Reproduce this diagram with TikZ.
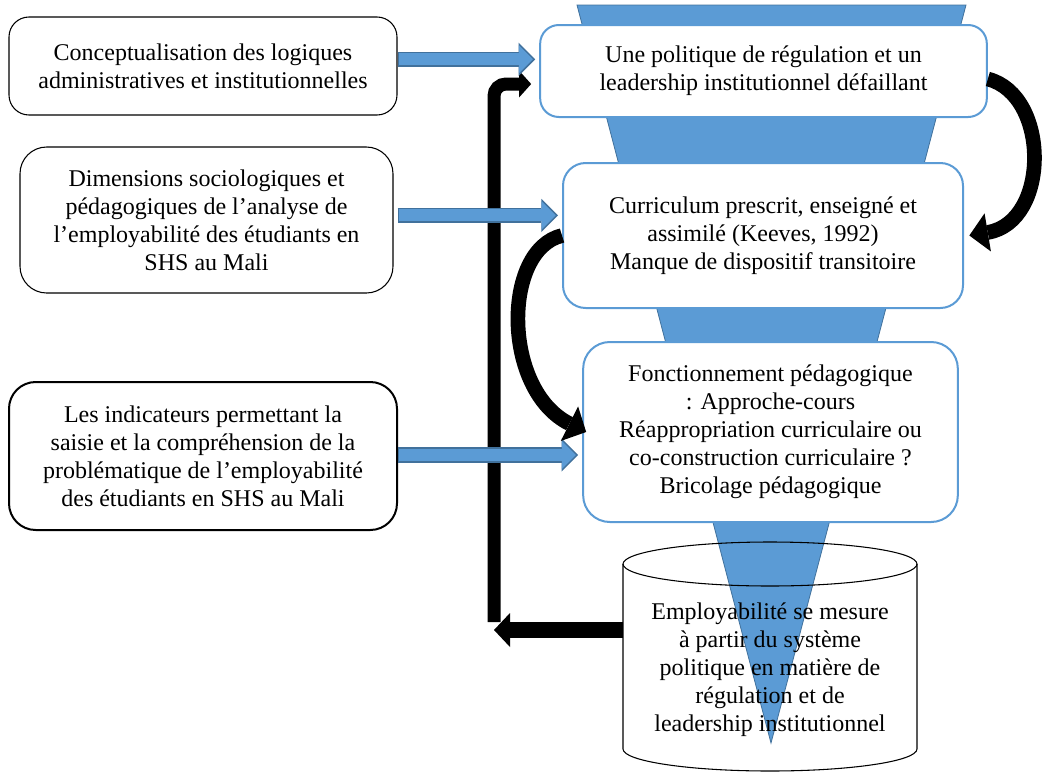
\documentclass[tikz,border=0pt]{standalone}
\usepackage{fontspec}
\setmainfont{Liberation Serif}
\usetikzlibrary{arrows.meta}
\definecolor{officeblue}{HTML}{5B9BD5}
\definecolor{officeedge}{HTML}{41719C}
\begin{document}
\begin{tikzpicture}[x=.75pt, y=-.75pt, every node/.style={align=center, inner sep=0pt, font=\fontsize{18}{21}\selectfont},
	leftbox/.style={draw, line width=.8pt, rounded corners=15pt},
	funnelbox/.style={draw=officeblue, fill=white, line width=1.5pt, rounded corners=14pt},
	bluerim/.style={draw=officeedge, line width=11.5pt, shorten >=3pt, -{Triangle[width=25pt,length=12.5pt,line width=0pt]}},
	bluebody/.style={draw=officeblue, line width=9pt, shorten >=4.7pt, shorten <=.8pt, -{Triangle[width=21pt,length=10.5pt,line width=0pt]}},
	loopback/.style={line width=9.75pt, -{Triangle[width=20pt,length=9pt,line width=0pt]}},
	curly/.style={line width=11pt, -{Triangle[width=29pt,length=14pt,line width=0pt]}}]
	\useasboundingbox (0,0) rectangle (1043,772);
	\fill[officeblue, draw=officeedge, line width=.6pt] (577,5) -- (966,5) -- (771,743) -- cycle;
	\node[leftbox, minimum width=291pt, minimum height=73.5pt] (concept) at (203,66) {Conceptualisation des logiques\\administratives et institutionnelles};
	\node[leftbox, rounded corners=20pt, minimum width=279.75pt, minimum height=109.5pt] (dimension) at (206.5,220) {Dimensions sociologiques et\\pédagogiques de l’analyse de\\l’employabilité des étudiants en\\SHS au Mali};
	\node[leftbox, line width=1.5pt, rounded corners=20pt, minimum width=291pt, minimum height=111pt] (indicateurs) at (203,456) {Les indicateurs permettant la\\saisie et la compréhension de la\\problématique de l’employabilité\\des étudiants en SHS au Mali};
	\node[funnelbox, minimum width=335pt, minimum height=69pt] (politique) at (763.5,71) {Une politique de régulation et un\\leadership institutionnel défaillant};
	\node[funnelbox, rounded corners=17pt, minimum width=300pt, minimum height=108.75pt] (curriculum) at (763,235.5) {Curriculum prescrit, enseigné et\\assimilé (Keeves, 1992)\\Manque de dispositif transitoire};
	\node[funnelbox, rounded corners=20pt, minimum width=281pt, minimum height=135pt] (fonctionnement) at (770.5,432) {Fonctionnement pédagogique\\: Approche-cours\\Réappropriation curriculaire ou\\co-construction curriculaire ?\\Bricolage pédagogique};
	\draw[line width=.8pt] (623,564) -- (623,749) arc[start angle=180, end angle=0, x radius=147, y radius=22] -- (917,564);
	\draw[line width=.8pt] (770,564) ellipse[x radius=147, y radius=22];
	\node[minimum width=220pt] (employabilite) at (770,670) {Employabilité se mesure\\à partir du système\\politique en matière de\\régulation et de\\leadership institutionnel};
	\coordinate (retour) at (494,630);
	\draw[line width=12pt, -{Triangle[width=25.5pt,length=12pt,line width=0pt]}] ([yshift=30pt]employabilite.west) -- (retour);
	\draw[loopback, rounded corners=9pt, shorten >=6pt] ([yshift=6pt]retour) |- ([yshift=-9.75pt]politique.west);
	\draw[bluerim] ([yshift=5pt]concept.east) -- ([yshift=5pt]concept.east -| politique.west);
	\draw[bluebody] ([yshift=5pt]concept.east) -- ([yshift=5pt]concept.east -| politique.west);
	\draw[bluerim] ([xshift=3pt,yshift=3.4pt]dimension.east) -- ([yshift=3.4pt]dimension.east -| curriculum.west);
	\draw[bluebody] ([xshift=3pt,yshift=3.4pt]dimension.east) -- ([yshift=3.4pt]dimension.east -| curriculum.west);
	\draw[bluerim] ([yshift=.75pt]indicateurs.east) -- ([yshift=.75pt]indicateurs.east -| fonctionnement.west);
	\draw[bluebody] ([yshift=.75pt]indicateurs.east) -- ([yshift=.75pt]indicateurs.east -| fonctionnement.west);
	\draw[curly] ([yshift=-6pt]politique.east) .. controls (1050,95) and (1050,222) .. ([xshift=4pt]curriculum.east);
	\draw[curly] (curriculum.west) .. controls (502,250) and (502,390) .. ([xshift=3pt]fonctionnement.west);
\end{tikzpicture}
\end{document}
